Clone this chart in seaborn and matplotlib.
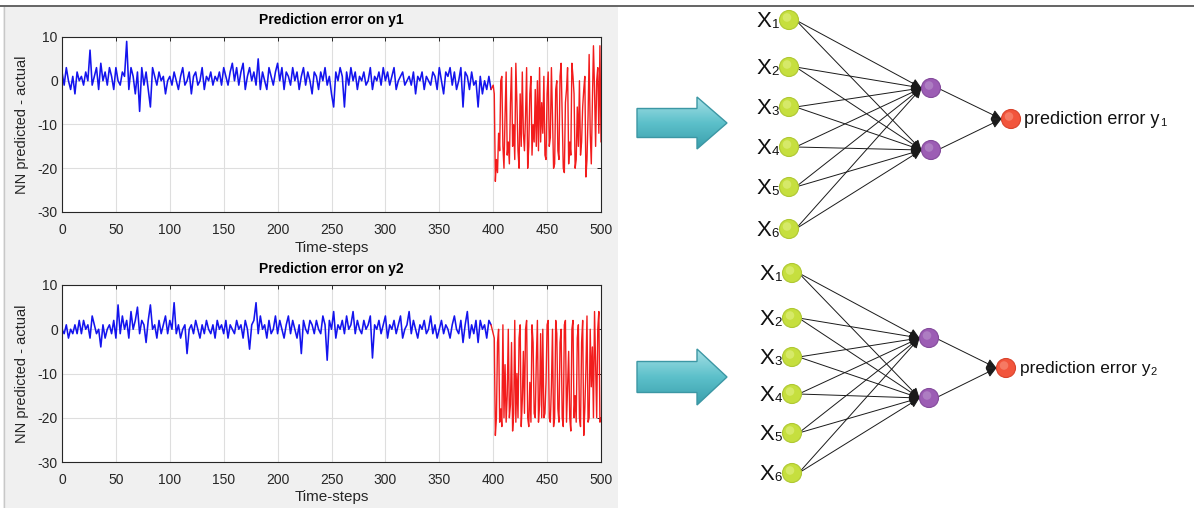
import numpy as np
import pandas as pd
import matplotlib
matplotlib.use("Agg")
import matplotlib.pyplot as plt
import seaborn as sns
from matplotlib.patches import Circle, Polygon, Rectangle
from matplotlib.colors import LinearSegmentedColormap

# ---------------- data ----------------
t_blue = list(range(0, 400, 2))
t_red = list(range(400, 501))

y1_blue = [
    2, -1, 3, 0, -2, 1, -3, 2, 0, 1,
    -1, 2, 0, 7, -1, 1, 3, -2, 4, 0,
    2, -1, 3, 1, -2, 3, 0, -1, 2, 1,
    9, -2, 3, 1, -3, 2, -7, 3, -1, 2,
    -2, -6, 3, 1, -1, 2, 0, 1, -3, 0,
    1, -1, 2, 0, -2, 1, 3, -1, 0, 2,
    -3, 1, 2, -1, 0, 3, -2, 1, 0, 2,
    -1, 1, 0, 2, -1, 3, 1, -1, 2, 4,
    0, 3, -1, 2, 4, -2, 1, 3, 0, 2,
    -1, 5, -2, 2, 0, -2, 3, 1, -1, 2,
    4, 0, 3, -2, 2, 1, -1, 3, 0, 2,
    -2, 1, 3, -1, 2, 0, -3, 2, 1, -2,
    2, 0, 3, -1, 1, -3, -6, 2, 0, 3,
    1, -6, 2, -1, 3, 0, 2, -2, 1, 0,
    2, -1, 0, 3, -2, 1, 0, 2, -1, 3,
    0, 2, -1, 1, 3, -2, 0, 1, 2, -1,
    0, 1, -1, 2, -3, 1, 0, 2, -2, 1,
    0, -1, 2, 1, -2, 3, 0, -3, 2, 1,
    3, -1, 2, -2, 0, 3, -6, 2, 1, -2,
    2, -1, 0, -6, 1, -3, 0, -2, 1, -2,
]
y1_red = [
    -1, -3, -23, -18, -21, -12, -16, 0, 1, -15, -20, -8, 2, -17, -14, -19, -5, 3, -15, -10,
    -18, 4, -5, -16, -20, -3, -15, 2, -12, -16, -8, 3, -20, -15, -3, 1, -17, -10, -14, -2,
    -15, 0, -16, 3, -14, -5, -12, 1, -17, -18, -3, 2, -15, -13, 3, -8, -20, -19, -2, 0,
    -16, -18, 1, 4, -8, -20, -21, -5, -2, 3, -19, -14, -17, 4, 1, -3, -20, -18, -6, -15,
    0, -17, -14, -6, -2, 1, -22, -18, -8, 6, -12, -19, -5, 8, -2, -15, 0, 3, -12, 8, -14,
]
y2_blue = [
    0, -1, 1, -2, 0, -1, 1, -1, 2, -1,
    2, 0, 1, -2, 3, 1, -1, 0, -4, 1,
    -2, 0, 1, -1, 2, -2, 5.5, -1, 3, 0,
    2, -2, 4, 0, 2, 5, -1, 2, 1, -3,
    2, 5.5, 0, 1, -2, 2, -1, 1, 3, -1,
    2, 0, 6, -1, 1, -2, 0, 1, -5.5, 0,
    1, -1, 2, 0, -2, 1, -1, 2, 0, -1,
    1, -2, 2, 0, 1, -1, 2, -2, 1, 0,
    -1, 2, 0, 1, -2, 2, 0, -4.5, 1, 2,
    6, -1, 3, 0, 1, -2, 2, -1, 0, 3,
    -1, 2, 0, -2, 1, 3, -1, 2, 0, -2,
    1, -5.5, 2, 0, -1, 2, 1, -1, 2, 0,
    -1, 3, 1, -7, 2, 0, 4, -2, 1, 0,
    2, -1, 3, 0, 1, 4, -1, 2, 0, -1,
    2, 0, 1, 3, -6.5, 1, 0, 2, -1, 1,
    3, -2, 1, 0, 2, -1, 1, 3, -2, 0,
    1, 4, -1, 2, 0, -2, 1, 0, 2, -1,
    0, 3, -1, 1, -2, 0, 2, -1, 1, 0,
    -2, 1, 3, 0, -1, 2, -3, 1, 4, -2,
    1, -1, 2, -3, 2, 0, 1, -2, 2, 1,
]
y2_red = [
    -1, -2, -24, -20, -3, 0, -21, -18, -22, 1, -20, -8, -21, -15, 0, -20, -17, -3, -23, -19,
    2, -21, -10, -20, -2, 1, -22, -16, -5, -19, 0, 2, -20, -22, -12, -21, 1, -3, -19, -20,
    -7, 2, -21, -17, -1, -20, 0, -20, -19, -12, 1, 2, -20, -21, -13, 0, -22, -20, 2, -1,
    -18, -21, -3, 0, -20, -22, 1, 2, -21, -13, -5, -20, -23, 0, 2, -20, -15, -21, -2, 1,
    -20, -22, -3, 2, -24, -18, -9, 3, -21, -20, 0, -13, -4, -20, 4, -8, -20, 0, 4, -21, -20,
]

x_ticks = [0, 50, 100, 150, 200, 250, 300, 350, 400, 450, 500]
y_ticks = [-30, -20, -10, 0, 10]
titles = ["Prediction error on y1", "Prediction error on y2"]
x_label = "Time-steps"
y_label = "NN predicted - actual"
input_subscripts = ["1", "2", "3", "4", "5", "6"]
output_subscripts = ["1", "2"]
output_text = "prediction error y"

# ---------------- style ----------------
sns.set_style("white")
plt.rcParams['font.family'] = ['Liberation Sans', 'DejaVu Sans']
plt.rcParams['axes.unicode_minus'] = False

W, H = 1194, 508
fig = plt.figure(figsize=(W / 100, H / 100), dpi=100)
fig.patch.set_facecolor("white")

# overlay axes in pixel coordinates for the panel background and diagrams
ov = fig.add_axes([0, 0, 1, 1], zorder=0)
ov.set_axis_off()
ov.set_autoscale_on(False)
ov.set_xlim(0, W)
ov.set_ylim(H, 0)

ov.add_patch(Rectangle((3, 7), 615, H - 7, facecolor="#F0F0F0", edgecolor="none", zorder=0))
ov.plot([3.5, 3.5], [7, H], color="#C8C8C8", lw=1, zorder=1)
ov.plot([0, W], [6, 6], color="#4A4A4A", lw=1.2, zorder=1)

TXT = "#262626"


def draw_series(rect, yb, yr, title, xl_y, yl_x, title_y):
    ax = fig.add_axes(rect, zorder=2)
    ax.set_facecolor("white")
    dfb = pd.DataFrame({"t": t_blue, "v": yb})
    dfr = pd.DataFrame({"t": [t_blue[-1]] + t_red, "v": [yb[-1]] + yr})
    sns.lineplot(data=dfb, x="t", y="v", ax=ax, color="#1414EE", lw=1.15, estimator=None)
    sns.lineplot(data=dfr, x="t", y="v", ax=ax, color="#F21C1C", lw=1.0, estimator=None)
    ax.set_xlim(0, 500)
    ax.set_ylim(-30, 10)
    ax.set_xticks(x_ticks)
    ax.set_yticks(y_ticks)
    ax.grid(True, color="#DEDEDE", lw=0.8)
    ax.set_axisbelow(True)
    ax.tick_params(direction="in", length=3, top=True, right=True, labelsize=10,
                   colors=TXT, pad=3, width=0.7)
    ax.tick_params(axis="x", pad=8)
    for s in ax.spines.values():
        s.set_color(TXT)
        s.set_linewidth(0.8)
    ax.set_title(title, fontsize=10, fontweight="bold", color="black", y=title_y, pad=0)
    ax.set_xlabel(x_label, fontsize=11, color=TXT)
    ax.set_ylabel(y_label, fontsize=10.5, color=TXT)
    ax.xaxis.set_label_coords(0.5, xl_y)
    ax.yaxis.set_label_coords(yl_x, 0.5)
    return ax


def frac(x0, x1, ytop, ybot):
    return [x0 / W, 1 - ybot / H, (x1 - x0) / W, (ybot - ytop) / H]


draw_series(frac(62, 601, 37, 212), y1_blue, y1_red, titles[0], -0.165, -0.062, 1.072)
draw_series(frac(62, 601, 285, 462), y2_blue, y2_red, titles[1], -0.16, -0.062, 1.068)

# ---------------- block arrows ----------------
acmap = LinearSegmentedColormap.from_list("teal", ["#A6E0E6", "#5CC0CA", "#3A9FAC"])


def block_arrow(x0, x1, yc, shaft_h, head_h, head_len):
    pts = [(x0, yc - shaft_h / 2), (x1 - head_len, yc - shaft_h / 2),
           (x1 - head_len, yc - head_h / 2), (x1, yc),
           (x1 - head_len, yc + head_h / 2), (x1 - head_len, yc + shaft_h / 2),
           (x0, yc + shaft_h / 2)]
    poly = Polygon(pts, closed=True, fc="none", ec="#3C97A4", lw=1.0, zorder=4)
    ov.add_patch(poly)
    grad = np.linspace(0, 1, 100).reshape(-1, 1)
    im = ov.imshow(grad, extent=(x0, x1, yc + head_h / 2, yc - head_h / 2),
                   cmap=acmap, aspect="auto", zorder=3, interpolation="bilinear")
    im.set_clip_path(poly)


block_arrow(637, 727, 123, 29, 52, 30)
block_arrow(637, 727, 377, 31, 56, 30)

# ---------------- networks ----------------
R = 9.5
renderer = fig.canvas.get_renderer()


def draw_net(in_x, in_ys, hid_x, hid_ys, out_x, out_y, out_sub, text_size):
    aprops = dict(arrowstyle="-|>,head_length=0.6,head_width=0.3",
                  color="#1A1A1A", lw=0.7, shrinkA=0, shrinkB=0)
    for yi in in_ys:
        for yh in hid_ys:
            ov.annotate("", xy=(hid_x - R, yh), xytext=(in_x + R * 0.7, yi),
                        arrowprops=aprops, zorder=3)
    for yh in hid_ys:
        ov.annotate("", xy=(out_x - R, out_y), xytext=(hid_x + R * 0.7, yh),
                    arrowprops=aprops, zorder=3)
    for yi, sub in zip(in_ys, input_subscripts):
        ov.add_patch(Circle((in_x, yi), R, fc="#C6DF3E", ec="#AFC832", lw=0.8, zorder=5))
        ov.add_patch(Circle((in_x - 2, yi - 2.5), R * 0.45, fc="#DDEE7A", ec="none", zorder=5, alpha=0.7))
        ov.text(in_x - R - 8, yi + 7, "X", ha="right", va="baseline",
                fontsize=16, color="#111111", zorder=6)
        ov.text(in_x - R - 0.5, yi + 8, sub, ha="right", va="baseline",
                fontsize=9.5, color="#111111", zorder=6)
    for yh in hid_ys:
        ov.add_patch(Circle((hid_x, yh), R, fc="#9C5DB4", ec="#844A9C", lw=0.8, zorder=5))
        ov.add_patch(Circle((hid_x - 2, yh - 2.5), R * 0.45, fc="#B58BC8", ec="none", zorder=5, alpha=0.7))
    ov.add_patch(Circle((out_x, out_y), R, fc="#F2553C", ec="#D9432C", lw=0.8, zorder=5))
    ov.add_patch(Circle((out_x - 2, out_y - 2.5), R * 0.45, fc="#F88A74", ec="none", zorder=5, alpha=0.7))
    t = ov.text(out_x + R + 4, out_y + 5, output_text, ha="left", va="baseline",
                fontsize=text_size, color="#111111", zorder=6)
    bb = t.get_window_extent(renderer=renderer)
    ov.text(bb.x1 + 0.5, out_y + 7, out_sub, ha="left", va="baseline",
            fontsize=8, color="#111111", zorder=6)


draw_net(789, [20, 67, 107, 147, 187, 229], 931, [88, 150], 1011, 119, output_subscripts[0], 13)
draw_net(792, [273, 318, 357, 394, 433, 473], 929, [338, 398], 1006, 368, output_subscripts[1], 12.5)

fig.savefig("out.png", dpi=100, facecolor="white")
